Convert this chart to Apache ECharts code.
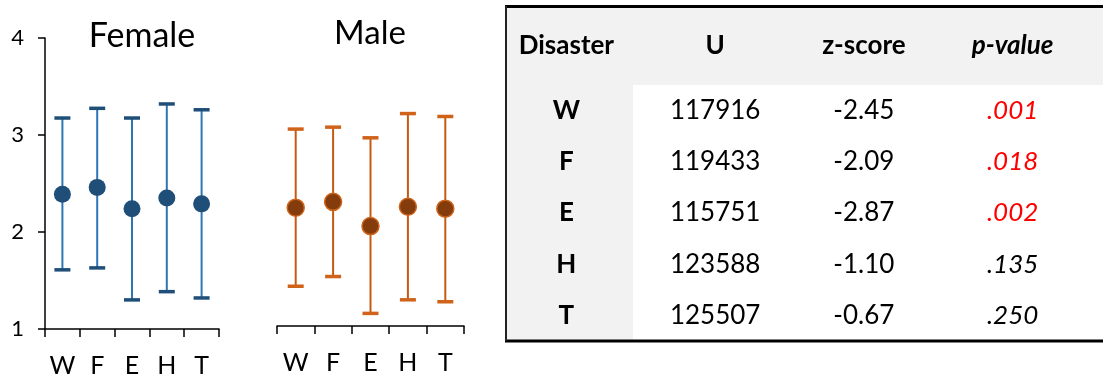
<!DOCTYPE html>
<html>
<head>
<meta charset="utf-8">
<script src="https://cdn.jsdelivr.net/npm/echarts@6/dist/echarts.min.js"></script>
<style>
  html, body { margin: 0; padding: 0; background: #fff; }
  #chart { width: 1103px; height: 374px; }
</style>
</head>
<body>
<div id="chart"></div>
<script>
// Disaster categories shared by both panels and the table
const disasters = ['W', 'F', 'E', 'H', 'T'];

// Female: mean and interval bounds per disaster
const femaleMean = [2.39, 2.46, 2.24, 2.35, 2.29];
const femaleLow  = [1.61, 1.63, 1.30, 1.385, 1.32];
const femaleHigh = [3.175, 3.275, 3.175, 3.32, 3.26];

// Male: mean and interval bounds per disaster
const maleMean = [2.22, 2.28, 2.03, 2.23, 2.21];
const maleLow  = [1.41, 1.51, 1.13, 1.27, 1.25];
const maleHigh = [3.03, 3.05, 2.94, 3.19, 3.16];

// Mann-Whitney test table
const tableHeaders = ['Disaster', 'U', 'z-score', 'p-value'];
const uValues = [117916, 119433, 115751, 123588, 125507];
const zScores = [-2.45, -2.09, -2.87, -1.10, -0.67];
const pValues = [0.001, 0.018, 0.002, 0.135, 0.250];

const FONT = 'Lato, "Open Sans", sans-serif';

function errorBarRenderer(lineColor, capColor) {
  return function (params, api) {
    const i = api.value(0);
    const lo = api.coord([i, api.value(1)]);
    const hi = api.coord([i, api.value(2)]);
    const half = 8;
    return {
      type: 'group',
      children: [
        { type: 'line', shape: { x1: lo[0], y1: lo[1], x2: hi[0], y2: hi[1] },
          style: { stroke: lineColor, lineWidth: 2 } },
        { type: 'line', shape: { x1: hi[0] - half, y1: hi[1], x2: hi[0] + half, y2: hi[1] },
          style: { stroke: capColor, lineWidth: 3.5 } },
        { type: 'line', shape: { x1: lo[0] - half, y1: lo[1], x2: lo[0] + half, y2: lo[1] },
          style: { stroke: capColor, lineWidth: 3.5 } }
      ]
    };
  };
}

function panelXAxis(gridIndex, margin) {
  return {
    type: 'category', gridIndex, data: disasters, boundaryGap: true,
    axisLine: { onZero: false, lineStyle: { color: '#000', width: 1.5 } },
    axisTick: { show: true, length: 8, alignWithLabel: false, lineStyle: { color: '#000', width: 1.5 } },
    axisLabel: { color: '#000', fontSize: 25, fontFamily: FONT, margin, interval: 0 }
  };
}

const tableCells = [];
disasters.forEach((d, r) => { for (let c = 0; c < tableHeaders.length; c++) tableCells.push([c, r]); });

const chart = echarts.init(document.getElementById('chart'), null, { renderer: 'canvas' });
chart.setOption({
  animation: false,
  backgroundColor: '#fff',
  grid: [
    { left: 45, top: 38, width: 174, height: 291, outerBoundsMode: 'none', containLabel: false },
    { left: 277, top: 35, width: 187, height: 291, outerBoundsMode: 'none', containLabel: false },
    { left: 492, right: 16, top: 85, bottom: 33, outerBoundsMode: 'none', containLabel: false }
  ],
  xAxis: [
    panelXAxis(0, 24),
    panelXAxis(1, 24),
    {
      type: 'category', gridIndex: 2, data: tableHeaders, position: 'top',
      axisLine: { show: false }, axisTick: { show: false },
      axisLabel: {
        interval: 0, hideOverlap: false,
        margin: 26, color: '#000', fontSize: 26, fontWeight: 'bold', fontFamily: FONT,
        formatter: v => v === 'p-value' ? '{it|' + v + '}' : v,
        rich: { it: { fontSize: 26, fontWeight: 'bold', fontStyle: 'italic', fontFamily: FONT, color: '#000' } }
      }
    }
  ],
  yAxis: [
    {
      type: 'value', gridIndex: 0, min: 1, max: 4, interval: 1,
      splitLine: { show: false },
      axisLine: { show: true, lineStyle: { color: '#000', width: 1.5 } },
      axisTick: { show: true, length: 7, lineStyle: { color: '#000', width: 1.5 } },
      axisLabel: { color: '#000', fontSize: 22, fontFamily: FONT, margin: 21 }
    },
    { type: 'value', gridIndex: 1, min: 1, max: 4, interval: 1, show: false, splitLine: { show: false } },
    { type: 'category', gridIndex: 2, data: disasters, inverse: true, show: false }
  ],
  graphic: [
    { type: 'text', x: 142, y: 36, z: 10,
      style: { text: 'Female', fontSize: 34, fontFamily: FONT, fill: '#000', align: 'center', verticalAlign: 'middle' } },
    { type: 'text', x: 370, y: 33, z: 10,
      style: { text: 'Male', fontSize: 33, fontFamily: FONT, fill: '#000', align: 'center', verticalAlign: 'middle' } },
    // table shading and frame
    { type: 'rect', z: -10, shape: { x: 505, y: 7, width: 600, height: 78 }, style: { fill: '#F2F2F2' } },
    { type: 'rect', z: -10, shape: { x: 505, y: 85, width: 128, height: 256 }, style: { fill: '#F2F2F2' } },
    { type: 'line', z: 5, shape: { x1: 505, y1: 6.5, x2: 1110, y2: 6.5 }, style: { stroke: '#000', lineWidth: 3 } },
    { type: 'line', z: 5, shape: { x1: 505, y1: 341, x2: 1110, y2: 341 }, style: { stroke: '#000', lineWidth: 3 } },
    { type: 'line', z: 5, shape: { x1: 506, y1: 6, x2: 506, y2: 341 }, style: { stroke: '#222', lineWidth: 2 } }
  ],
  series: [
    {
      type: 'custom', xAxisIndex: 0, yAxisIndex: 0,
      renderItem: errorBarRenderer('#2E75B6', '#1F4E79'),
      encode: { x: 0, y: [1, 2] },
      data: disasters.map((d, i) => [i, femaleLow[i], femaleHigh[i]]),
      z: 2
    },
    {
      type: 'scatter', xAxisIndex: 0, yAxisIndex: 0, symbol: 'circle', symbolSize: 17,
      itemStyle: { color: '#1F4E79', opacity: 1 },
      data: femaleMean.map((v, i) => [i, v]), z: 3
    },
    {
      type: 'custom', xAxisIndex: 1, yAxisIndex: 1,
      renderItem: errorBarRenderer('#C55A11', '#D0631A'),
      encode: { x: 0, y: [1, 2] },
      data: disasters.map((d, i) => [i, maleLow[i], maleHigh[i]]),
      z: 2
    },
    {
      type: 'scatter', xAxisIndex: 1, yAxisIndex: 1, symbol: 'circle', symbolSize: 17,
      itemStyle: { color: '#843C0C', borderColor: '#D0631A', borderWidth: 1.5, opacity: 1 },
      data: maleMean.map((v, i) => [i, v]), z: 3
    },
    {
      type: 'custom', xAxisIndex: 2, yAxisIndex: 2,
      data: tableCells,
      encode: { x: 0, y: 1 },
      renderItem: function (params, api) {
        const c = api.value(0), r = api.value(1);
        const pt = api.coord([c, r]);
        let text, weight = 'normal', style = 'normal', fill = '#000';
        if (c === 0) { text = disasters[r]; weight = 'bold'; }
        else if (c === 1) { text = String(uValues[r]); }
        else if (c === 2) { text = zScores[r].toFixed(2); }
        else {
          text = pValues[r].toFixed(3).replace(/^0/, '');
          style = 'italic';
          if (pValues[r] < 0.05) fill = '#FF0000';
        }
        return {
          type: 'text', x: pt[0], y: pt[1],
          style: { text, fontSize: 26, fontFamily: FONT, fontWeight: weight, fontStyle: style,
                   fill, align: 'center', verticalAlign: 'middle' }
        };
      },
      z: 4
    }
  ]
});
</script>
</body>
</html>
